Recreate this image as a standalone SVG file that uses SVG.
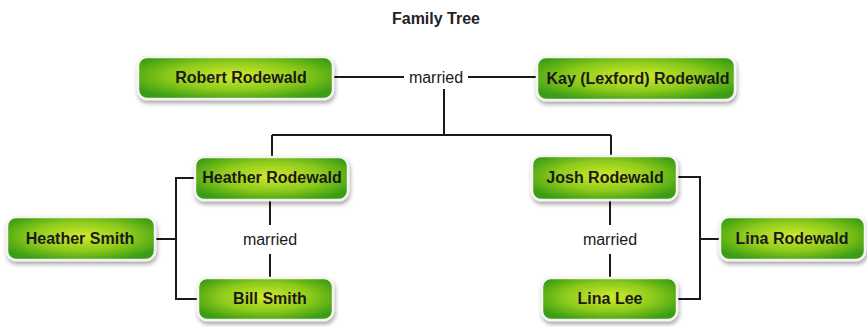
<svg xmlns="http://www.w3.org/2000/svg" width="867" height="327" viewBox="0 0 867 327">
<defs>
<radialGradient id="g" cx="0.5" cy="0.45" r="0.6">
<stop offset="0" stop-color="#d2ea2c"/>
<stop offset="0.55" stop-color="#8fcb1c"/>
<stop offset="1" stop-color="#3a9d12"/>
</radialGradient>
<filter id="sh" x="-10%" y="-20%" width="120%" height="150%">
<feDropShadow dx="1" dy="3" stdDeviation="2" flood-color="#000" flood-opacity="0.35"/>
</filter>
</defs>
<style>
.box{fill:url(#g);stroke:#f4f4f0;stroke-width:2.5;filter:url(#sh)}
.lbl{font-family:"Liberation Sans",Arial,sans-serif;font-weight:bold;font-size:16px;fill:#1a1a1a;text-anchor:middle}
.m{font-family:"Liberation Sans",Arial,sans-serif;font-size:16px;fill:#1a1a1a;text-anchor:middle}
.c{fill:none;stroke:#1a1a1a;stroke-width:2}
.title{font-family:"Liberation Sans",Arial,sans-serif;font-weight:bold;font-size:16px;fill:#222;text-anchor:middle}
</style>
<rect width="867" height="327" fill="#fff"/>
<text class="title" x="436" y="24">Family Tree</text>
<g id="connectors">
<path class="c" d="M333 77H404M468 77H537"/>
<path class="c" d="M444 89V135M272 135H611M272 135V157M611 135V156"/>
<path class="c" d="M155 239H176M195 178H176V299H198"/>
<path class="c" d="M270 200V225M270 254V278"/>
<path class="c" d="M677 177H700V299H677M700 239H720"/>
<path class="c" d="M610 200V225M610 254V278"/>
<text class="m" x="436" y="83">married</text>
<text class="m" x="270" y="245">married</text>
<text class="m" x="610" y="245">married</text>
</g>
<g id="robert"><rect class="box" x="138" y="57" width="195" height="42" rx="9"/><text class="lbl" x="241" y="83">Robert Rodewald</text></g>
<g id="kay"><rect class="box" x="537" y="57" width="198" height="43" rx="9"/><text class="lbl" x="638" y="84">Kay (Lexford) Rodewald</text></g>
<g id="heatherR"><rect class="box" x="195" y="157" width="153" height="43" rx="9"/><text class="lbl" x="272" y="183">Heather Rodewald</text></g>
<g id="heatherS"><rect class="box" x="7" y="217" width="148" height="43" rx="9"/><text class="lbl" x="80" y="244">Heather Smith</text></g>
<g id="bill"><rect class="box" x="198" y="278" width="135" height="42" rx="9"/><text class="lbl" x="270" y="304">Bill Smith</text></g>
<g id="josh"><rect class="box" x="532" y="156" width="145" height="44" rx="9"/><text class="lbl" x="605" y="183">Josh Rodewald</text></g>
<g id="linaR"><rect class="box" x="720" y="217" width="145" height="43" rx="9"/><text class="lbl" x="792" y="244">Lina Rodewald</text></g>
<g id="linaL"><rect class="box" x="542" y="278" width="135" height="42" rx="9"/><text class="lbl" x="610" y="304">Lina Lee</text></g>
</svg>
